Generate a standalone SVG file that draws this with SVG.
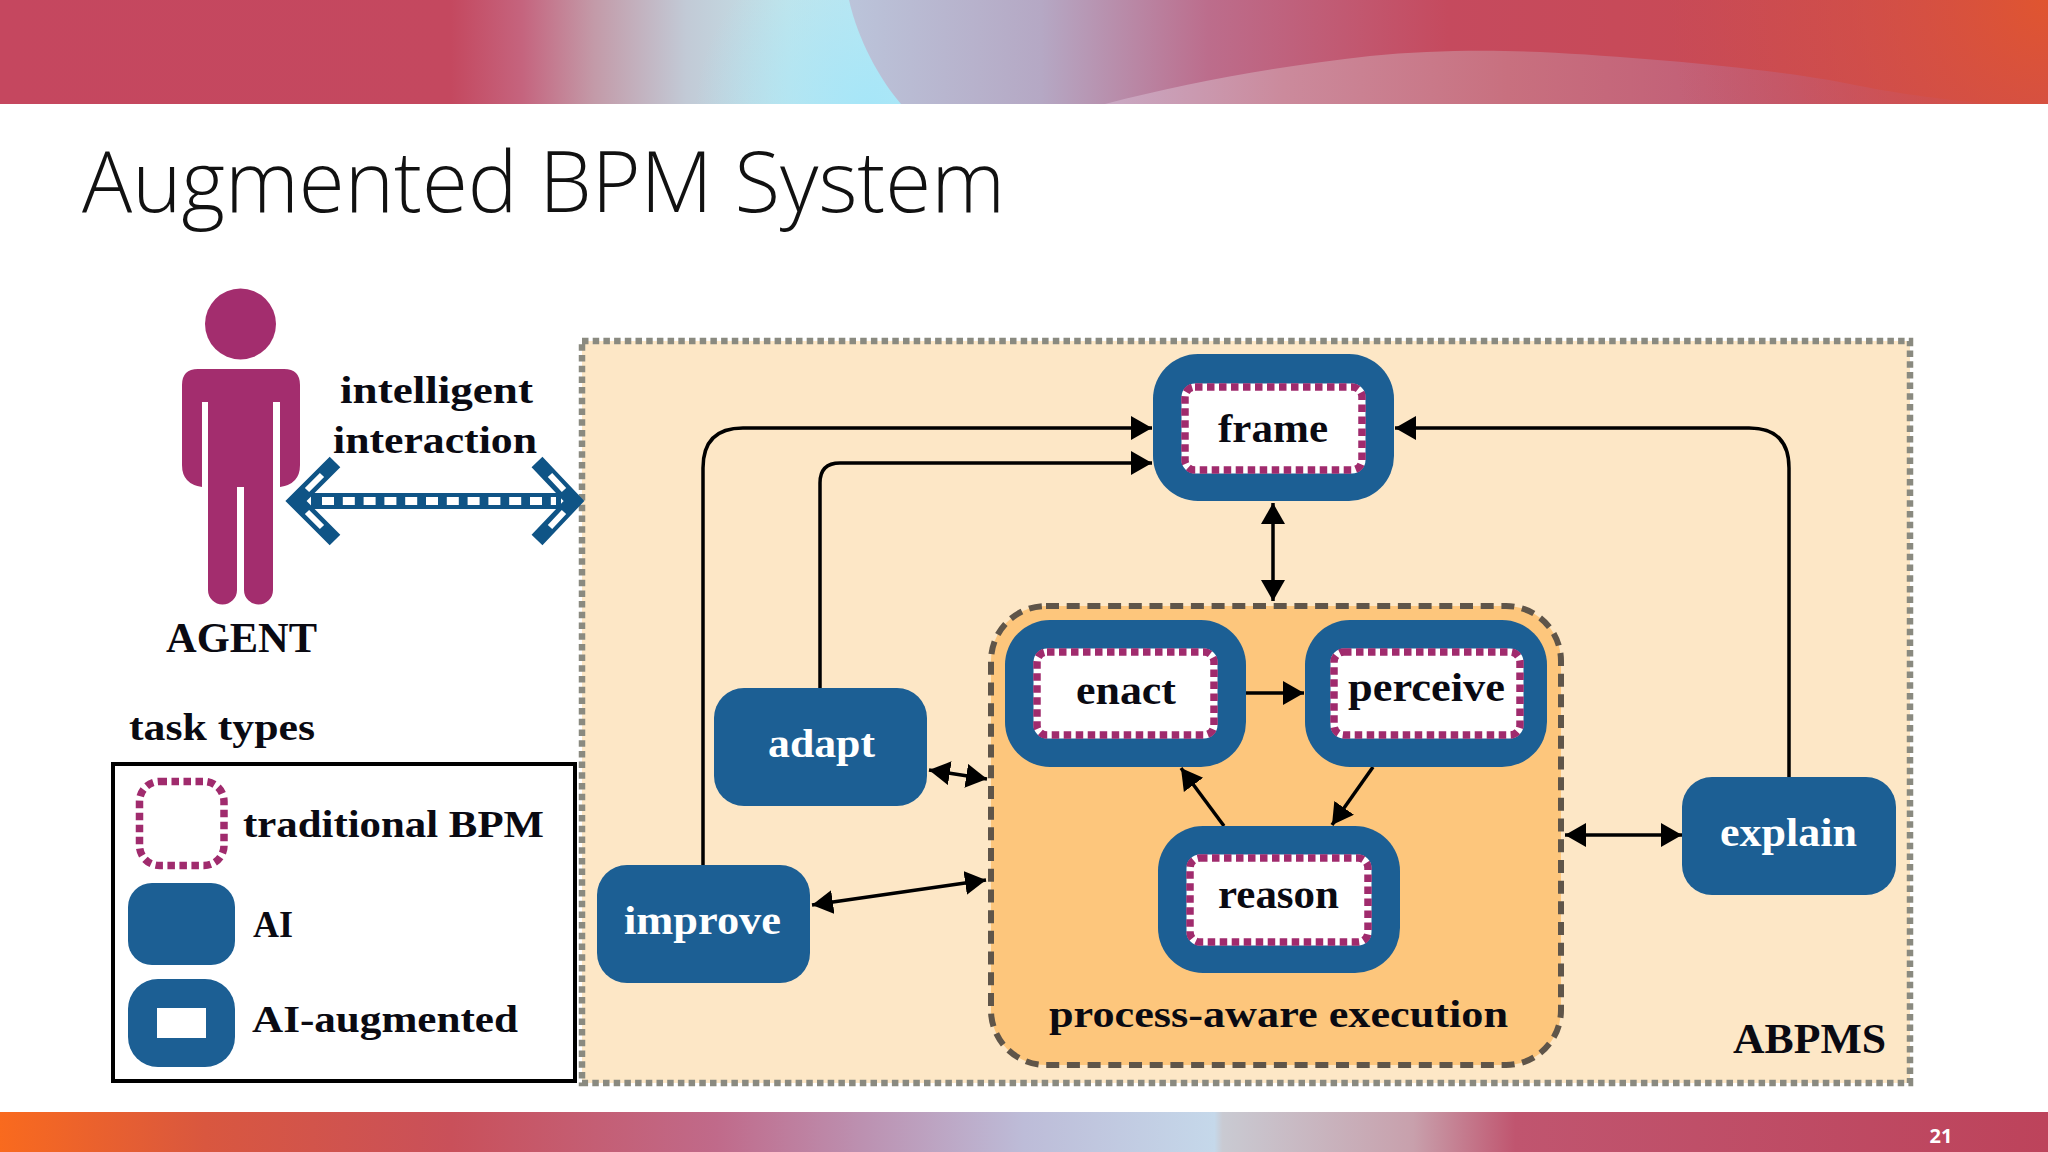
<svg xmlns="http://www.w3.org/2000/svg" width="2048" height="1152" viewBox="0 0 2048 1152">
<style>
.t{font-family:"Liberation Serif","Noto Serif",serif;font-weight:700;fill:#0a0a12}
.w{font-family:"Liberation Serif","Noto Serif",serif;font-weight:700;fill:#fff}
.blue{fill:#1c5f94}
.box{fill:#fff;stroke:#fff;stroke-width:7}
.dots{fill:none;stroke:#a02b6d;stroke-width:7.500;stroke-dasharray:7.500 4.500}
.conn{fill:none;stroke:#000;stroke-width:3.500}
</style>
<defs>
<linearGradient id="topL" gradientUnits="userSpaceOnUse" x1="0" y1="0" x2="2048" y2="0">
<stop offset="0" stop-color="#c5475f"/><stop offset=".22" stop-color="#c4485f"/><stop offset=".255" stop-color="#c5647e"/><stop offset=".29" stop-color="#c39aa8"/><stop offset=".335" stop-color="#c2cad6"/><stop offset=".385" stop-color="#c3e4ea"/><stop offset=".44" stop-color="#bce8f4"/>
</linearGradient>
<radialGradient id="cyanV" gradientUnits="userSpaceOnUse" cx="870" cy="110" r="175">
<stop offset="0" stop-color="#a6e6f8"/><stop offset="1" stop-color="#a6e6f8" stop-opacity="0"/>
</radialGradient>
<linearGradient id="topR" gradientUnits="userSpaceOnUse" x1="849" y1="0" x2="2048" y2="0">
<stop offset="0" stop-color="#bbc4da"/><stop offset=".16" stop-color="#b5a8c4"/><stop offset=".3" stop-color="#bc6d8c"/><stop offset=".5" stop-color="#c54a5e"/><stop offset=".78" stop-color="#c94a54"/><stop offset="1" stop-color="#c9485a"/>
</linearGradient>
<radialGradient id="topC" gradientUnits="userSpaceOnUse" cx="2048" cy="0" r="380">
<stop offset="0" stop-color="#e0552f"/><stop offset="1" stop-color="#d0504a" stop-opacity="0"/>
</radialGradient>
<linearGradient id="topS" gradientUnits="userSpaceOnUse" x1="1105" y1="0" x2="2000" y2="0">
<stop offset="0" stop-color="#c9a9c4"/><stop offset=".2" stop-color="#cb8a9c"/><stop offset=".45" stop-color="#c8707f"/><stop offset=".75" stop-color="#c05a74"/><stop offset="1" stop-color="#c2486a"/>
</linearGradient>
<linearGradient id="bot" gradientUnits="userSpaceOnUse" x1="0" y1="0" x2="2048" y2="0">
<stop offset="0" stop-color="#f96a1e"/><stop offset=".1" stop-color="#d9573f"/><stop offset=".22" stop-color="#c9505a"/><stop offset=".35" stop-color="#c06a8a"/><stop offset=".42" stop-color="#bc90b0"/><stop offset=".5" stop-color="#bdbcd8"/><stop offset=".593" stop-color="#c5d8ea"/><stop offset=".597" stop-color="#c9cad2"/><stop offset=".69" stop-color="#c8a0ac"/><stop offset=".74" stop-color="#c0556f"/><stop offset="1" stop-color="#bd435b"/>
</linearGradient>
<marker id="ah" markerUnits="userSpaceOnUse" markerWidth="24" markerHeight="26" refX="21" refY="12" orient="auto-start-reverse"><path d="M0 0L21 12L0 24Z" fill="#000"/></marker>
</defs>

<rect width="2048" height="1152" fill="#fff"/>
<g id="top-band">
<rect width="2048" height="104" fill="url(#topL)"/>
<rect x="690" width="230" height="104" fill="url(#cyanV)"/>
<path d="M849 0C858 40 880 80 901 104H2048V0Z" fill="url(#topR)"/>
<path d="M1105 104C1190 82 1280 66 1370 56C1430 50 1490 50 1540 52C1640 57 1760 68 1829 80C1880 90 1910 96 1990 104Z" fill="url(#topS)"/>
<rect x="1660" width="388" height="104" fill="url(#topC)"/>
</g>
<g id="bottom-band">
<rect y="1112" width="2048" height="40" fill="url(#bot)"/>
<text x="1941" y="1143" text-anchor="middle" font-family="Open Sans,sans-serif" font-weight="700" font-size="20" fill="#fff">21</text>
</g>
<text id="title" x="82" y="212" font-family="Open Sans,sans-serif" font-weight="300" font-size="84" fill="#111" textLength="923" lengthAdjust="spacingAndGlyphs">Augmented BPM System</text>

<g id="abpms">
<rect x="582" y="341" width="1328" height="742" fill="#fde7c6" stroke="#8a8a80" stroke-width="6.500" stroke-dasharray="6.500 4.200"/>
<text class="t" x="1733" y="1053" font-size="42" textLength="153" lengthAdjust="spacingAndGlyphs">ABPMS</text>
</g>
<g id="process-aware-execution">
<rect x="991" y="606" width="570" height="459" rx="55" fill="#fdc67c" stroke="#5f5549" stroke-width="6" stroke-dasharray="13 7.700"/>
<text class="t" x="1049" y="1027" font-size="38" textLength="459" lengthAdjust="spacingAndGlyphs">process-aware execution</text>
</g>

<g id="connectors">
<path class="conn" marker-end="url(#ah)" d="M703 865V468Q703 428 743 428H1152"/>
<path class="conn" marker-end="url(#ah)" d="M820 688V483Q820 463 840 463H1152"/>
<path class="conn" marker-end="url(#ah)" d="M1789 777V468Q1789 428 1749 428H1395"/>
<path class="conn" marker-start="url(#ah)" marker-end="url(#ah)" d="M1273 503V601"/>
<path class="conn" marker-end="url(#ah)" d="M1246 693H1304"/>
<path class="conn" marker-end="url(#ah)" d="M1224 826L1181 768"/>
<path class="conn" marker-end="url(#ah)" d="M1373 767L1332 825"/>
<path class="conn" marker-start="url(#ah)" marker-end="url(#ah)" d="M929 770L987 779"/>
<path class="conn" marker-start="url(#ah)" marker-end="url(#ah)" d="M812 905L986 880"/>
<path class="conn" marker-start="url(#ah)" marker-end="url(#ah)" d="M1565 835H1682"/>
</g>

<g id="frame"><rect class="blue" x="1153" y="354" width="241" height="147" rx="45"/><rect class="box" x="1185" y="387" width="177" height="83" rx="10"/><rect class="dots" x="1185" y="387" width="177" height="83" rx="10"/><text class="t" x="1218" y="442" font-size="41" textLength="110" lengthAdjust="spacingAndGlyphs">frame</text></g>
<g id="enact"><rect class="blue" x="1005" y="620" width="241" height="147" rx="45"/><rect class="box" x="1037" y="652" width="177" height="83" rx="10"/><rect class="dots" x="1037" y="652" width="177" height="83" rx="10"/><text class="t" x="1076" y="704" font-size="41" textLength="100" lengthAdjust="spacingAndGlyphs">enact</text></g>
<g id="perceive"><rect class="blue" x="1305" y="620" width="242" height="147" rx="45"/><rect class="box" x="1334" y="652" width="186" height="83" rx="10"/><rect class="dots" x="1334" y="652" width="186" height="83" rx="10"/><text class="t" x="1348" y="701" font-size="41" textLength="157" lengthAdjust="spacingAndGlyphs">perceive</text></g>
<g id="reason"><rect class="blue" x="1158" y="826" width="242" height="147" rx="45"/><rect class="box" x="1190" y="858" width="178" height="84" rx="10"/><rect class="dots" x="1190" y="858" width="178" height="84" rx="10"/><text class="t" x="1218" y="908" font-size="41" textLength="121" lengthAdjust="spacingAndGlyphs">reason</text></g>
<g id="adapt"><rect class="blue" x="714" y="688" width="213" height="118" rx="30"/><text class="w" x="768" y="757" font-size="41" textLength="107" lengthAdjust="spacingAndGlyphs">adapt</text></g>
<g id="improve"><rect class="blue" x="597" y="865" width="213" height="118" rx="30"/><text class="w" x="624" y="934" font-size="41" textLength="157" lengthAdjust="spacingAndGlyphs">improve</text></g>
<g id="explain"><rect class="blue" x="1682" y="777" width="214" height="118" rx="30"/><text class="w" x="1720" y="846" font-size="41" textLength="137" lengthAdjust="spacingAndGlyphs">explain</text></g>

<g id="agent">
<circle cx="240.500" cy="324" r="35.500" fill="#a32d6e"/>
<path fill="#a32d6e" d="M198 369H284Q300 369 300 385V465Q300 484 280 487V402H273V590A14.500 14.500 0 0 1 244 590V487H237V590A14.500 14.500 0 0 1 208 590V402H202V487Q182 484 182 465V385Q182 369 198 369Z"/>
<text class="t" x="166" y="652" font-size="42" textLength="151" lengthAdjust="spacingAndGlyphs">AGENT</text>
</g>
<g id="intelligent-interaction">
<text class="t" x="340" y="403" font-size="38" textLength="193" lengthAdjust="spacingAndGlyphs">intelligent</text>
<text class="t" x="333" y="453" font-size="38" textLength="204" lengthAdjust="spacingAndGlyphs">interaction</text>
<path d="M311 501H561" stroke="#0f5486" stroke-width="16" fill="none"/>
<path d="M322 501H556" stroke="#fff" stroke-width="8" stroke-dasharray="12 8.800" fill="none"/>
<path d="M335 462L296 501L335 540" fill="none" stroke="#0f5486" stroke-width="15" stroke-miterlimit="10"/>
<path d="M537 462L574 501L537 540" fill="none" stroke="#0f5486" stroke-width="15" stroke-miterlimit="10"/>
<path d="M322 475L307 490M307 512L322 527M550 475L564 490M564 512L550 527" stroke="#fff" stroke-width="6" fill="none"/>
</g>

<g id="legend">
<text class="t" x="129" y="740" font-size="38" textLength="186" lengthAdjust="spacingAndGlyphs">task types</text>
<rect x="113" y="764" width="462" height="317" fill="#fff" stroke="#000" stroke-width="4"/>
<rect class="dots" x="139.500" y="781.500" width="84.500" height="84" rx="20"/>
<text class="t" x="243" y="837" font-size="38" textLength="301" lengthAdjust="spacingAndGlyphs">traditional BPM</text>
<rect class="blue" x="128" y="883" width="107" height="82" rx="24"/>
<text class="t" x="253" y="937" font-size="38" textLength="40" lengthAdjust="spacingAndGlyphs">AI</text>
<rect class="blue" x="128" y="979" width="107" height="88" rx="30"/>
<rect x="157" y="1008" width="49" height="30" fill="#fff"/>
<text class="t" x="252" y="1032" font-size="38" textLength="266" lengthAdjust="spacingAndGlyphs">AI-augmented</text>
</g>
</svg>
